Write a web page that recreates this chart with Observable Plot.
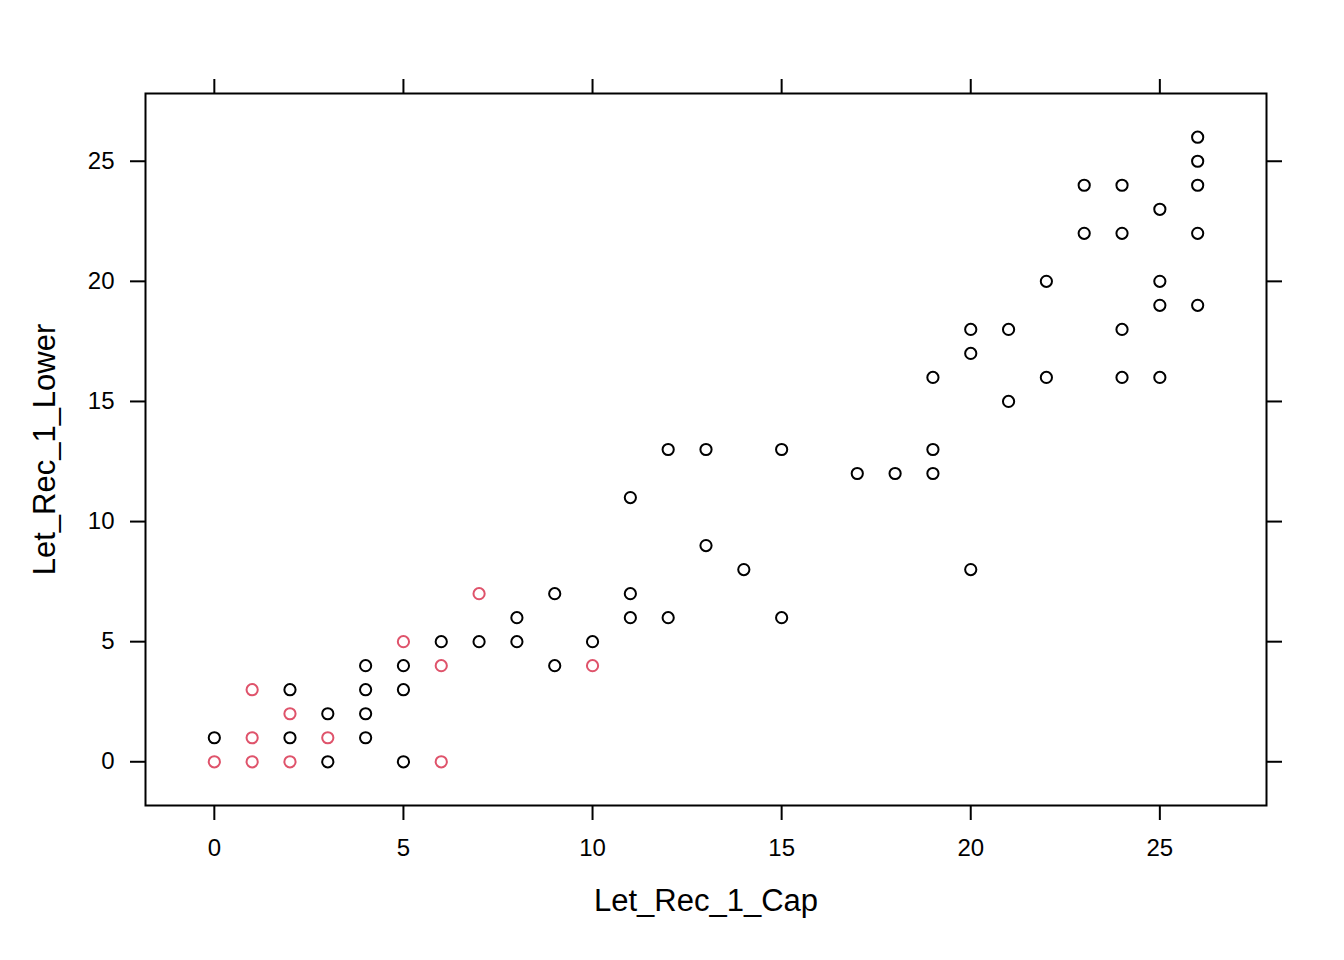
<!DOCTYPE html>
<html>
<head>
<meta charset="utf-8">
<script src="https://cdn.jsdelivr.net/npm/d3@7"></script>
<script src="https://cdn.jsdelivr.net/npm/@observablehq/plot@0.6"></script>
<style>
  html, body { margin: 0; padding: 0; background: white; }
  svg { display: block; }
</style>
</head>
<body>
<div id="chart"></div>
<script>
// Data
const xTitle = "Let_Rec_1_Cap";
const yTitle = "Let_Rec_1_Lower";
const tickValues = [0, 5, 10, 15, 20, 25];

// black group
const capBlack   = [0, 2, 2, 3, 3, 4, 4, 4, 4, 5, 5, 5, 6, 7, 8, 8, 9, 9, 10, 11, 11, 11, 12, 12, 13, 13, 14, 15, 15, 17, 18, 19, 19, 19, 20, 20, 20, 21, 21, 22, 22, 23, 23, 24, 24, 24, 24, 25, 25, 25, 25, 26, 26, 26, 26, 26];
const lowerBlack = [1, 3, 1, 2, 0, 4, 3, 2, 1, 4, 3, 0, 5, 5, 6, 5, 7, 4, 5, 11, 7, 6, 13, 6, 13, 9, 8, 13, 6, 12, 12, 16, 13, 12, 18, 17, 8, 18, 15, 20, 16, 24, 22, 24, 22, 18, 16, 23, 20, 19, 16, 26, 25, 24, 22, 19];

// red group
const capRed   = [0, 1, 1, 1, 2, 2, 3, 5, 6, 6, 7, 10];
const lowerRed = [0, 3, 1, 0, 2, 0, 1, 5, 4, 0, 7, 4];

const colorBlack = "#000000";
const colorRed = "#DF536B";

const black = capBlack.map((c, i) => ({cap: c, lower: lowerBlack[i]}));
const red = capRed.map((c, i) => ({cap: c, lower: lowerRed[i]}));

const domain = [-1.82, 27.82];
const sw = 2;

const chart = Plot.plot({
  width: 1344,
  height: 960,
  marginLeft: 145,
  marginRight: 78,
  marginTop: 93,
  marginBottom: 155,
  style: {fontFamily: "'Liberation Sans', Arial, sans-serif", fontSize: "24px", background: "white", color: "black"},
  x: {domain, axis: null},
  y: {domain, axis: null},
  marks: [
    Plot.frame({stroke: "black", strokeWidth: sw}),
    Plot.axisX({anchor: "bottom", ticks: tickValues, tickSize: 15, tickPadding: 18, strokeWidth: sw, fontSize: 24, label: null}),
    Plot.axisX({anchor: "top", ticks: tickValues, tickSize: 15, tickFormat: () => "", strokeWidth: sw, label: null}),
    Plot.axisY({anchor: "left", ticks: tickValues, tickSize: 15, tickPadding: 16, strokeWidth: sw, fontSize: 24, label: null}),
    Plot.axisY({anchor: "right", ticks: tickValues, tickSize: 15, tickFormat: () => "", strokeWidth: sw, label: null}),
    Plot.dot(black, {x: "cap", y: "lower", r: 5.6, stroke: colorBlack, strokeWidth: sw, fill: "none"}),
    Plot.dot(red, {x: "cap", y: "lower", r: 5.6, stroke: colorRed, strokeWidth: sw, fill: "none"}),
    Plot.text([xTitle], {text: d => d, frameAnchor: "bottom", dy: 96, fontSize: 31, textAnchor: "middle", lineAnchor: "middle"}),
    Plot.text([yTitle], {text: d => d, frameAnchor: "left", dx: -100, rotate: -90, fontSize: 31, textAnchor: "middle", lineAnchor: "middle"})
  ]
});
document.getElementById("chart").appendChild(chart);
</script>
</body>
</html>
